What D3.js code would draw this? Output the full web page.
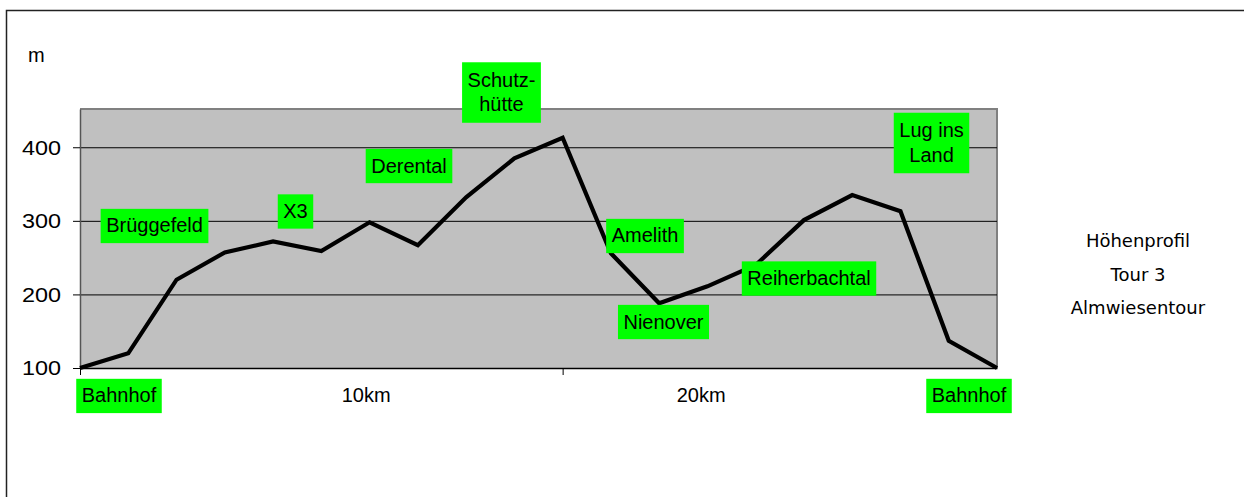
<!DOCTYPE html>
<html>
<head>
<meta charset="utf-8">
<script src="https://cdn.jsdelivr.net/npm/d3@7/dist/d3.min.js"></script>
<style>
  html, body { margin: 0; padding: 0; background: #fff; }
  svg { display: block; }
  text { font-family: Arial, "Liberation Sans", sans-serif; fill: #000; }
</style>
</head>
<body>
<svg id="chart" width="1244" height="497"></svg>
<script>
// Elevation profile of tour 3: one elevation (m) per waypoint along the route
const elevations = [100, 120, 220, 257, 272, 259, 298, 267, 332, 385, 413, 256, 188, 211, 240, 301, 335, 313, 137, 100];
const yTicks = [100, 200, 300, 400];
const yUnit = "m";

// Named places along the route (text, anchor point along the route, anchor elevation)
const placeNames = ["Brüggefeld", "X3", "Derental", "Schutz-\nhütte", "Amelith", "Nienover", "Reiherbachtal", "Lug ins\nLand", "Bahnhof", "Bahnhof"];
const placeAt = [1.544, 4.465, 6.817, 8.733, 11.707, 12.09, 15.105, 17.643, 0.808, 18.42];
const placeElev = [293, 312.7, 374.5, 474.4, 279.4, 162.5, 221.6, 405.8, 62, 62];

// Distance markers under the axis
const kmLabels = ["10km", "20km"];
const kmAt = [5.93, 12.87];
const xTickAt = [0, 10];

const titleLines = ["Höhenprofil", "Tour 3", "Almwiesentour"];

const svg = d3.select("#chart");
const plot = { left: 80, right: 997, top: 109, bottom: 368 };

const x = d3.scaleLinear().domain([0, elevations.length - 1]).range([plot.left, plot.right]);
const y = d3.scaleLinear().domain([100, 452]).range([plot.bottom, plot.top]);

// outer chart frame (open to the right and bottom)
svg.append("path")
  .attr("d", `M6.5,497 L6.5,10.5 L1244,10.5`)
  .attr("fill", "none").attr("stroke", "#222").attr("stroke-width", 1.5);

// plot area
svg.append("rect")
  .attr("x", plot.left).attr("y", plot.top)
  .attr("width", plot.right - plot.left).attr("height", plot.bottom - plot.top)
  .attr("fill", "#c0c0c0");
svg.append("path")
  .attr("d", `M${plot.left},${plot.top} L${plot.right},${plot.top} L${plot.right},${plot.bottom}`)
  .attr("fill", "none").attr("stroke", "#808080").attr("stroke-width", 2);

// horizontal gridlines
svg.append("g").selectAll("line")
  .data(yTicks.filter(t => t > 100))
  .join("line")
  .attr("x1", plot.left).attr("x2", plot.right)
  .attr("y1", d => y(d) + 0.5).attr("y2", d => y(d) + 0.5)
  .attr("stroke", "#000").attr("stroke-width", 1);

// y axis
const yAxis = d3.axisLeft(y).tickValues(yTicks).tickSizeInner(7).tickSizeOuter(0).tickPadding(12).tickFormat(d3.format("d"));
const gy = svg.append("g").attr("transform", `translate(${plot.left},0)`).call(yAxis);
gy.select(".domain").attr("stroke", "#555").attr("stroke-width", 1.5);
gy.selectAll(".tick line").attr("stroke", "#000");
gy.selectAll(".tick text")
  .attr("font-size", 20).attr("font-family", "Arial, 'Liberation Sans', sans-serif")
  .attr("fill", "#000").attr("dy", "0.34em")
  .attr("textLength", 39).attr("lengthAdjust", "spacingAndGlyphs");

// x axis line with ticks
const xAxis = d3.axisBottom(x).tickValues(xTickAt).tickSizeInner(7).tickSizeOuter(0).tickFormat("");
const gx = svg.append("g").attr("transform", `translate(0,${plot.bottom})`).call(xAxis);
gx.select(".domain").attr("stroke", "#000").attr("stroke-width", 1.5);
gx.selectAll(".tick line").attr("stroke", "#000");

// unit label
svg.append("text").attr("x", 28).attr("y", 62).attr("font-size", 20).text(yUnit);

// elevation line
const line = d3.line().x((d, i) => x(i)).y(d => y(d));
svg.append("path")
  .datum(elevations)
  .attr("d", line)
  .attr("fill", "none").attr("stroke", "#000")
  .attr("stroke-width", 4.2).attr("stroke-linejoin", "miter");

// km labels
svg.append("g").selectAll("text")
  .data(kmLabels)
  .join("text")
  .attr("x", (d, i) => x(kmAt[i])).attr("y", 401.5)
  .attr("text-anchor", "middle").attr("font-size", 20)
  .text(d => d);

// place name boxes
const places = placeNames.map((name, i) => ({ lines: name.split("\n"), at: placeAt[i], elev: placeElev[i] }));
const pg = svg.append("g").selectAll("g").data(places).join("g")
  .attr("transform", d => `translate(${x(d.at)},${y(d.elev)})`);
pg.each(function (d) {
  const g = d3.select(this);
  const rect = g.append("rect").attr("fill", "#00ff00");
  const lh = 24.8;
  const n = d.lines.length;
  const t = g.append("text").attr("text-anchor", "middle").attr("font-size", 20);
  d.lines.forEach((ln, j) => {
    t.append("tspan").attr("x", 0)
      .attr("y", (j - (n - 1) / 2) * lh + 6.5)
      .text(ln);
  });
  let w = 0;
  t.selectAll("tspan").each(function () { w = Math.max(w, this.getComputedTextLength()); });
  const bw = w + 11;
  const bh = n === 1 ? 34.3 : 60.5;
  rect.attr("x", -bw / 2).attr("y", -bh / 2).attr("width", bw).attr("height", bh);
});

// title at the right
svg.append("g").selectAll("text")
  .data(titleLines)
  .join("text")
  .attr("x", 1138).attr("y", (d, i) => 247 + i * 33.6)
  .attr("text-anchor", "middle")
  .style("font-family", "'DejaVu Sans', sans-serif")
  .style("fill", "#000")
  .attr("font-size", 18)
  .text(d => d);
</script>
</body>
</html>
